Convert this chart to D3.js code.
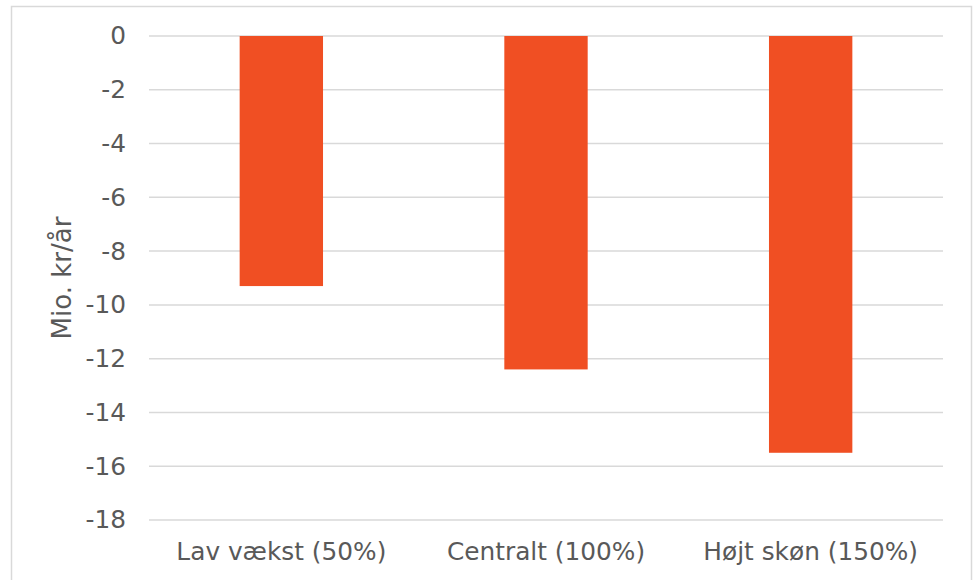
<!DOCTYPE html>
<html><head><meta charset="utf-8">
<script src="https://cdn.jsdelivr.net/npm/d3@7"></script>
<style>body{margin:0;background:#fff}svg{display:block}</style>
</head><body>
<script>
const categories = ["Lav vækst (50%)", "Centralt (100%)", "Højt skøn (150%)"];
const values = [-9.3, -12.4, -15.5];
const yTicks = [0, -2, -4, -6, -8, -10, -12, -14, -16, -18];
const yTitle = "Mio. kr/år";

const W = 973, H = 580;
const svg = d3.select("body").append("svg").attr("width", W).attr("height", H);
svg.append("rect").attr("x", 11.5).attr("y", 6.5).attr("width", 960).attr("height", 590)
  .attr("fill", "#fff").attr("stroke", "#d9d9d9").attr("stroke-width", 1.5);

const x = d3.scaleBand().domain(categories).range([149, 943]).paddingInner(0.685).paddingOuter(0.3425);
const y = d3.scaleLinear().domain([0, -18]).range([36, 520]);
const font = "Verdana, 'DejaVu Sans', sans-serif";
const fs = 24.8;

const grid = svg.append("g");
grid.selectAll("line").data(yTicks).join("line")
  .attr("x1", 149).attr("x2", 943).attr("y1", d => y(d)).attr("y2", d => y(d))
  .attr("stroke", "#d9d9d9").attr("stroke-width", 1.5);

const yAxis = svg.append("g").attr("transform", "translate(149,0)")
  .call(d3.axisLeft(y).tickValues(yTicks).tickSize(0).tickPadding(23).tickFormat(d => String(d)));
yAxis.select(".domain").remove();
yAxis.selectAll("text").attr("font-family", font).attr("font-size", fs).attr("fill", "#595959");

svg.append("g").selectAll("rect").data(values).join("rect")
  .attr("x", (d, i) => x(categories[i])).attr("width", x.bandwidth())
  .attr("y", y(0)).attr("height", d => y(d) - y(0)).attr("fill", "#f04f23");

const xAxis = svg.append("g").attr("transform", "translate(0,520)")
  .call(d3.axisBottom(x).tickSize(0).tickPadding(22));
xAxis.select(".domain").remove();
xAxis.selectAll("text").attr("font-family", font).attr("font-size", fs).attr("fill", "#595959");

svg.append("text").attr("transform", "translate(62,278) rotate(-90)")
  .attr("text-anchor", "middle").attr("dominant-baseline", "central")
  .attr("font-family", font).attr("font-size", 26).attr("fill", "#595959").text(yTitle);
</script>
</body></html>
